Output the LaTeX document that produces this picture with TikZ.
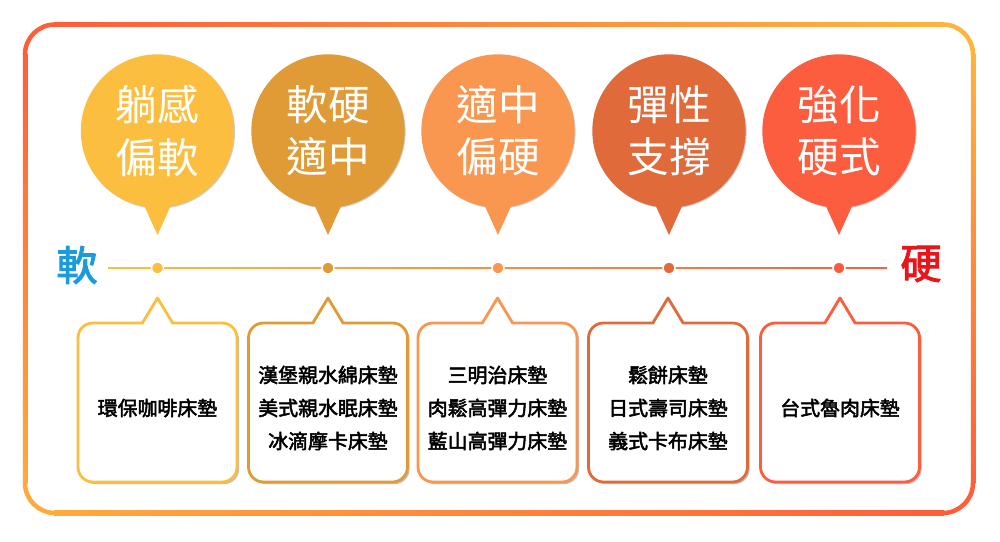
\documentclass[tikz,border=0pt]{standalone}
\usepackage{fontspec}
\newfontfamily\cjk[AutoFakeBold=2.5]{Noto Sans CJK TC}
\usetikzlibrary{shadows, calc}

\definecolor{lvA}{HTML}{FBBE3F}
\definecolor{lvB}{HTML}{E09B37}
\definecolor{lvC}{HTML}{F9964F}
\definecolor{lvD}{HTML}{E06A39}
\definecolor{lvE}{HTML}{FC5D3F}
\definecolor{frameRed}{HTML}{FF5E3A}
\definecolor{frameGold}{HTML}{FFB43C}
\definecolor{frameAmber}{HTML}{FFAA3B}
\definecolor{softBlue}{HTML}{1A9BDC}
\definecolor{hardRed}{HTML}{E8151B}

\tikzset{
    x=0.03cm, y=-0.03cm,
    framecorner/.style={draw=#1, line width=0.135cm, rounded corners=0.9cm},
    bubble/.style={circle, fill=#1, minimum size=4.6cm, inner sep=0pt,
        text=white, align=center, font=\cjk\fontsize{35.5}{44.5}\selectfont,
        drop shadow={opacity=0.4, shadow xshift=0.8pt, shadow yshift=-0.8pt}},
    listbox/.style={rectangle, rounded corners=0.45cm, draw=#1, line width=2.4pt,
        fill=white, minimum width=4.77cm, minimum height=4.77cm, inner sep=0pt,
        outer sep=0pt, drop shadow={opacity=0.5, shadow xshift=1.8pt, shadow yshift=-1.8pt}},
    listtext/.style={align=center, inner sep=0pt, font=\cjk\bfseries\fontsize{17}{28.2}\selectfont},
    tailside/.style={draw=#1, line width=2.4pt, line join=round},
    dot/.style={circle, fill=#1, draw=white, line width=1.3pt, minimum size=0.36cm, inner sep=0pt},
    endlabel/.style={font=\cjk\bfseries\fontsize{35}{35}\selectfont, text=#1}
}

\begin{document}
\begin{tikzpicture}
    \useasboundingbox (0,0) rectangle (1000,542);

    %frame
    \shade[left color=frameRed, right color=frameGold] (54,22.25) rectangle (944,26.75);
    \shade[top color=frameGold, bottom color=frameRed] (970.75,53.5) rectangle (975.25,484);
    \shade[left color=frameAmber, right color=frameRed] (54,510.75) rectangle (944,515.25);
    \shade[top color=frameRed, bottom color=frameAmber] (22.75,53.5) rectangle (27.25,484);
    \draw[framecorner=frameRed] (25,55) -- (25,24.5) -- (55,24.5);
    \draw[framecorner=frameGold] (943,24.5) -- (973,24.5) -- (973,55);
    \draw[framecorner=frameRed] (973,483) -- (973,513) -- (943,513);
    \draw[framecorner=frameAmber] (55,513) -- (25,513) -- (25,483);

    %bubbles
    \node[bubble=lvA] (feelSoft) at (157.5,131) {躺感\\偏軟};
    \node[bubble=lvB] (midSoft) at (328,131) {軟硬\\適中};
    \node[bubble=lvC] (midHard) at (498,131) {適中\\偏硬};
    \node[bubble=lvD] (springy) at (669,131) {彈性\\支撐};
    \node[bubble=lvE] (firm) at (839,131) {強化\\硬式};

    \foreach \b/\c in {feelSoft/lvA, midSoft/lvB, midHard/lvC, springy/lvD, firm/lvE}
        \fill[\c] ($(\b.center)+(-14.5,72)$) -- ($(\b.center)+(0,104)$) -- ($(\b.center)+(14.5,72)$) -- cycle;

    %scale
    \node[endlabel=softBlue] (soft) at (77,265) {軟};
    \node[endlabel=hardRed] (hard) at (921,264) {硬};
    \coordinate (lineL) at (108,267.2);
    \coordinate (lineR) at (887,268.8);
    \shade[left color=lvA, right color=lvE!90!lvD] (lineL) rectangle (lineR);

    \node[dot=lvA] (pA) at (157.5,268) {};
    \node[dot=lvB] (pB) at (328,268) {};
    \node[dot=lvC] (pC) at (498,268) {};
    \node[dot=lvD] (pD) at (669,268) {};
    \node[dot=lvE] (pE) at (839,268) {};

    %boxes
    \node[listbox=lvA] (boxA) at (157.5,402.5) {};
    \node[listbox=lvB] (boxB) at (328,402.5) {};
    \node[listbox=lvC] (boxC) at (497.5,402.5) {};
    \node[listbox=lvD] (boxD) at (668,402.5) {};
    \node[listbox=lvE] (boxE) at (840,402.5) {};

    \foreach \b/\c in {boxA/lvA, boxB/lvB, boxC/lvC, boxD/lvD, boxE/lvE}{
        \fill[white] ($(\b.north)+(-15,2.2)$) -- ($(\b.north)+(0,-25)$) -- ($(\b.north)+(15,2.2)$) -- cycle;
        \draw[tailside=\c] ($(\b.north)+(-15.5,0.6)$) -- ($(\b.north)+(0,-25)$) -- ($(\b.north)+(15.5,0.6)$);
    }

    %box texts
    \node[listtext] (itemsA) at ($(boxA.center)+(0,5.5)$) {環保咖啡床墊};
    \node[listtext] (itemsB) at ($(boxB.center)+(0,5.5)$) {漢堡親水綿床墊\\美式親水眠床墊\\冰滴摩卡床墊};
    \node[listtext] (itemsC) at ($(boxC.center)+(0,5.5)$) {三明治床墊\\肉鬆高彈力床墊\\藍山高彈力床墊};
    \node[listtext] (itemsD) at ($(boxD.center)+(0,5.5)$) {鬆餅床墊\\日式壽司床墊\\義式卡布床墊};
    \node[listtext] (itemsE) at ($(boxE.center)+(0,5.5)$) {台式魯肉床墊};
\end{tikzpicture}
\end{document}
